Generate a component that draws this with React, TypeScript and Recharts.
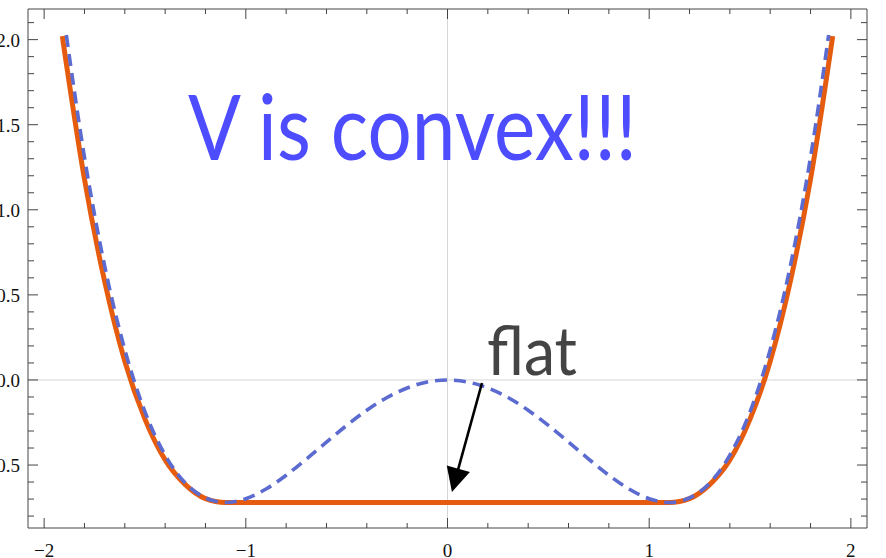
import { LineChart, Line, XAxis, YAxis, ReferenceLine, ReferenceDot } from "recharts";

// double-well potential V(x), dashed
const wellX = [-1.89, -1.8, -1.7, -1.6, -1.5, -1.4, -1.3, -1.2, -1.1, -1.0, -0.9, -0.8, -0.7, -0.6, -0.5, -0.4, -0.3, -0.2, -0.1, 0,
  0.1, 0.2, 0.3, 0.4, 0.5, 0.6, 0.7, 0.8, 0.9, 1.0, 1.1, 1.2, 1.3, 1.4, 1.5, 1.6, 1.7, 1.8, 1.89];
const wellV = [2.027, 1.309, 0.67, 0.178, -0.187, -0.442, -0.606, -0.693, -0.72, -0.698, -0.641, -0.56, -0.465, -0.365, -0.267, -0.178, -0.103, -0.047, -0.012, 0,
  -0.012, -0.047, -0.103, -0.178, -0.267, -0.365, -0.465, -0.56, -0.641, -0.698, -0.72, -0.693, -0.606, -0.442, -0.187, 0.178, 0.67, 1.309, 2.027];

// convex envelope, solid orange (flat between the two minima)
const hullX = [-1.91, -1.8, -1.7, -1.6, -1.5, -1.4, -1.3, -1.2, -1.1, 0, 1.1, 1.2, 1.3, 1.4, 1.5, 1.6, 1.7, 1.8, 1.91];
const hullV = [2.02, 1.18, 0.58, 0.11, -0.23, -0.47, -0.615, -0.697, -0.72, -0.72, -0.72, -0.697, -0.615, -0.47, -0.23, 0.11, 0.58, 1.18, 2.02];

const xTicks = [-2, -1.8, -1.6, -1.4, -1.2, -1, -0.8, -0.6, -0.4, -0.2, 0, 0.2, 0.4, 0.6, 0.8, 1, 1.2, 1.4, 1.6, 1.8, 2];
const yTicks = [-0.8, -0.7, -0.6, -0.5, -0.4, -0.3, -0.2, -0.1, 0, 0.1, 0.2, 0.3, 0.4, 0.5, 0.6, 0.7, 0.8, 0.9, 1.0,
  1.1, 1.2, 1.3, 1.4, 1.5, 1.6, 1.7, 1.8, 1.9, 2.0, 2.1];

const wellData = wellX.map((x, i) => ({ x, y: wellV[i] }));
const hullData = hullX.map((x, i) => ({ x, y: hullV[i] }));

const X_DOMAIN = [-2.08, 2.08];
const Y_DOMAIN = [-0.87, 2.18];
const FRAME = "#444";
const TICK_FONT = "'Liberation Serif', 'DejaVu Serif', serif";

const isMajorX = (v: number) => Math.abs(v - Math.round(v)) < 1e-9;
const isMajorY = (v: number) => Math.abs(v * 2 - Math.round(v * 2)) < 1e-9;
const fmt = (s: string) => s.replace("-", "\u2212");

const BottomTick = ({ x, y, payload }: any) => {
  const major = isMajorX(payload.value);
  return (
    <g>
      <line x1={x} x2={x} y1={y} y2={y - (major ? 10 : 5)} stroke={FRAME} />
      {major && (
        <text x={x} y={y + 29} textAnchor="middle" fontFamily={TICK_FONT} fontSize={19} fill="#111">
          {fmt(String(payload.value))}
        </text>
      )}
    </g>
  );
};

const TopTick = ({ x, y, payload }: any) => {
  const major = isMajorX(payload.value);
  return <line x1={x} x2={x} y1={y} y2={y + (major ? 10 : 5)} stroke={FRAME} />;
};

const LeftTick = ({ x, y, payload }: any) => {
  const major = isMajorY(payload.value);
  return (
    <g>
      <line x1={x} x2={x + (major ? 10 : 6)} y1={y} y2={y} stroke={FRAME} />
      {major && (
        <text x={x - 8} y={y + 7} textAnchor="end" fontFamily={TICK_FONT} fontSize={19} fill="#111">
          {fmt(payload.value.toFixed(1))}
        </text>
      )}
    </g>
  );
};

const RightTick = ({ x, y, payload }: any) => {
  const major = isMajorY(payload.value);
  return <line x1={x} x2={x - (major ? 10 : 6)} y1={y} y2={y} stroke={FRAME} />;
};

// line with a filled triangular head at (x2, y2)
const Arrow = ({ x1, y1, x2, y2 }: any) => {
  const dx = x2 - x1;
  const dy = y2 - y1;
  const len = Math.hypot(dx, dy);
  const ux = dx / len;
  const uy = dy / len;
  const head = 24;
  const half = 12;
  const bx = x2 - ux * head;
  const by = y2 - uy * head;
  const pts = `${x2},${y2} ${bx - uy * half},${by + ux * half} ${bx + uy * half},${by - ux * half}`;
  return (
    <g>
      <line x1={x1} y1={y1} x2={bx + ux * 2} y2={by + uy * 2} stroke="#000" strokeWidth={2.6} />
      <polygon points={pts} fill="#000" />
    </g>
  );
};

export default function App() {
  return (
    <div style={{ position: "absolute", left: 0, top: 0, width: 886, height: 558, background: "#fff" }}>
      <LineChart width={886} height={558} margin={{ top: 0, right: 0, bottom: 0, left: 0 }}>
        <XAxis xAxisId="b" dataKey="x" type="number" domain={X_DOMAIN} allowDataOverflow ticks={xTicks} interval={0}
          height={30} tickSize={0} tickMargin={0} tickLine={false} axisLine={{ stroke: FRAME }} tick={<BottomTick />} />
        <XAxis xAxisId="t" orientation="top" dataKey="x" type="number" domain={X_DOMAIN} allowDataOverflow ticks={xTicks} interval={0}
          height={9} tickSize={0} tickMargin={0} tickLine={false} axisLine={{ stroke: FRAME }} tick={<TopTick />} />
        <YAxis yAxisId="l" type="number" domain={Y_DOMAIN} allowDataOverflow ticks={yTicks} interval={0}
          width={28} tickSize={0} tickMargin={0} tickLine={false} axisLine={{ stroke: FRAME }} tick={<LeftTick />} />
        <YAxis yAxisId="r" orientation="right" type="number" domain={Y_DOMAIN} allowDataOverflow ticks={yTicks} interval={0}
          width={19} tickSize={0} tickMargin={0} tickLine={false} axisLine={{ stroke: FRAME }} tick={<RightTick />} />

        <ReferenceLine xAxisId="b" yAxisId="l" x={0} stroke="#d6d6d6" strokeWidth={1} />
        <ReferenceLine xAxisId="b" yAxisId="l" y={0} stroke="#d6d6d6" strokeWidth={1} />

        <Line xAxisId="b" yAxisId="l" data={hullData} dataKey="y" type="monotone" stroke="#e65c0f" strokeWidth={5}
          dot={false} activeDot={false} isAnimationActive={false} />
        <Line xAxisId="b" yAxisId="l" data={wellData} dataKey="y" type="monotone" stroke="#5b6bd0" strokeWidth={3.6}
          strokeDasharray="12 7" dot={false} activeDot={false} isAnimationActive={false} />

        <ReferenceLine xAxisId="b" yAxisId="l" segment={[{ x: 0.171, y: -0.018 }, { x: 0.022, y: -0.658 }]} shape={<Arrow />} />

        <ReferenceDot xAxisId="b" yAxisId="l" x={-1.287} y={1.293} r={1}
          shape={({ cx, cy }: any) => (
            <text x={cx} y={cy} fontFamily="Lato, 'Open Sans', sans-serif" fontSize={92} fill="#4d4dff"
              textLength={449} lengthAdjust="spacingAndGlyphs">V is convex!!!</text>
          )} />
        <ReferenceDot xAxisId="b" yAxisId="l" x={0.196} y={0.029} r={1}
          shape={({ cx, cy }: any) => (
            <text x={cx} y={cy} fontFamily="Lato, 'Open Sans', sans-serif" fontSize={68} fill="#444"
              textLength={90} lengthAdjust="spacingAndGlyphs">flat</text>
          )} />
      </LineChart>
    </div>
  );
}
